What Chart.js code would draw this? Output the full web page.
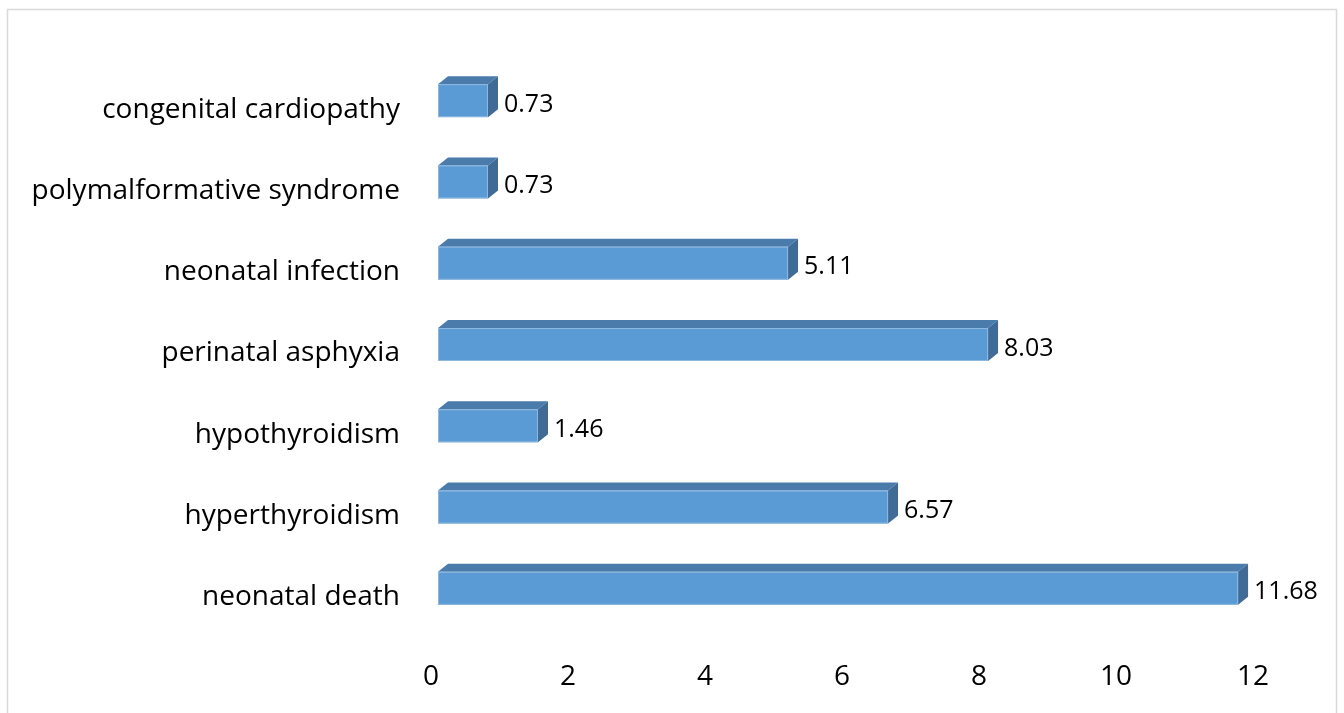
<!DOCTYPE html>
<html>
<head>
<meta charset="utf-8">
<script src="https://cdn.jsdelivr.net/npm/chart.js@4.4.1/dist/chart.umd.min.js"></script>
<style>
  html, body { margin: 0; padding: 0; background: #fff; }
</style>
</head>
<body>
<canvas id="chart" width="1344" height="713"></canvas>
<script>
// chart data, top to bottom as in the picture
const categories = ["congenital cardiopathy", "polymalformative syndrome", "neonatal infection",
  "perinatal asphyxia", "hypothyroidism", "hyperthyroidism", "neonatal death"];
const values = [0.73, 0.73, 5.11, 8.03, 1.46, 6.57, 11.68];
const xTicks = [0, 2, 4, 6, 8, 10, 12];

const FONT = "'Open Sans', 'Noto Sans', sans-serif";
const FRONT = "#5b9bd5";
const TOP = "#4a7bab";
const SIDE = "#3f6b96";

// white background + thin grey frame round the chart
const framePlugin = {
  id: "frame",
  beforeDraw(chart) {
    const ctx = chart.ctx;
    ctx.save();
    ctx.fillStyle = "#fff";
    ctx.fillRect(0, 0, chart.width, chart.height);
    ctx.strokeStyle = "#d9d9d9";
    ctx.lineWidth = 1.5;
    ctx.strokeRect(7.5, 9.5, 1329, 720);
    ctx.restore();
  }
};

// draw the bars as 3D boxes (excel style) plus the value labels
const box3dPlugin = {
  id: "box3d",
  afterDatasetsDraw(chart) {
    const ctx = chart.ctx;
    const meta = chart.getDatasetMeta(0);
    const dx = 7, dy = -9;      // front face shift from the axis
    const dpx = 10, dpy = 8;    // depth of the box
    ctx.save();
    meta.data.forEach((bar, i) => {
      const x0 = bar.base + dx;
      const x1 = bar.x + dx;
      const yc = bar.y + dy;
      const t = yc - bar.height / 2;
      const b = yc + bar.height / 2;

      // top face
      ctx.fillStyle = TOP;
      ctx.beginPath();
      ctx.moveTo(x0, t);
      ctx.lineTo(x0 + dpx, t - dpy);
      ctx.lineTo(x1 + dpx, t - dpy);
      ctx.lineTo(x1, t);
      ctx.closePath();
      ctx.fill();

      // side face
      ctx.fillStyle = SIDE;
      ctx.beginPath();
      ctx.moveTo(x1, t);
      ctx.lineTo(x1 + dpx, t - dpy);
      ctx.lineTo(x1 + dpx, b - dpy);
      ctx.lineTo(x1, b);
      ctx.closePath();
      ctx.fill();

      // front face
      ctx.fillStyle = FRONT;
      ctx.fillRect(x0, t, x1 - x0, b - t);
      ctx.strokeStyle = "#8fb8e0";
      ctx.lineWidth = 1;
      ctx.strokeRect(x0 + 0.5, t + 0.5, x1 - x0 - 1, b - t - 1);

      // value label
      ctx.fillStyle = "#000";
      ctx.font = "25px " + FONT;
      ctx.textAlign = "left";
      ctx.textBaseline = "middle";
      ctx.fillText(values[i].toFixed(2), x1 + 16, yc + 4);
    });
    ctx.restore();
  }
};

new Chart(document.getElementById("chart"), {
  type: "bar",
  data: {
    labels: categories,
    datasets: [{
      data: values,
      backgroundColor: "rgba(0,0,0,0)",
      borderWidth: 0,
      barThickness: 33
    }]
  },
  options: {
    indexAxis: "y",
    responsive: false,
    animation: false,
    devicePixelRatio: 1,
    layout: { padding: { left: 0, right: 91, top: 69, bottom: 0 } },
    plugins: {
      legend: { display: false },
      tooltip: { enabled: false }
    },
    scales: {
      x: {
        min: 0,
        max: 12,
        grid: { display: false, drawTicks: false },
        border: { display: false },
        afterBuildTicks(scale) {
          scale.ticks = xTicks.map(v => ({ value: v }));
        },
        afterFit(scale) { scale.height = 75; },
        ticks: {
          color: "#000",
          font: { family: FONT, size: 28 },
          padding: 22
        }
      },
      y: {
        grid: { display: false, drawTicks: false },
        border: { display: false },
        afterFit(scale) { scale.width = 431; },
        ticks: {
          color: "#000",
          font: { family: FONT, size: 28 },
          padding: 31
        }
      }
    }
  },
  plugins: [framePlugin, box3dPlugin]
});
</script>
</body>
</html>
